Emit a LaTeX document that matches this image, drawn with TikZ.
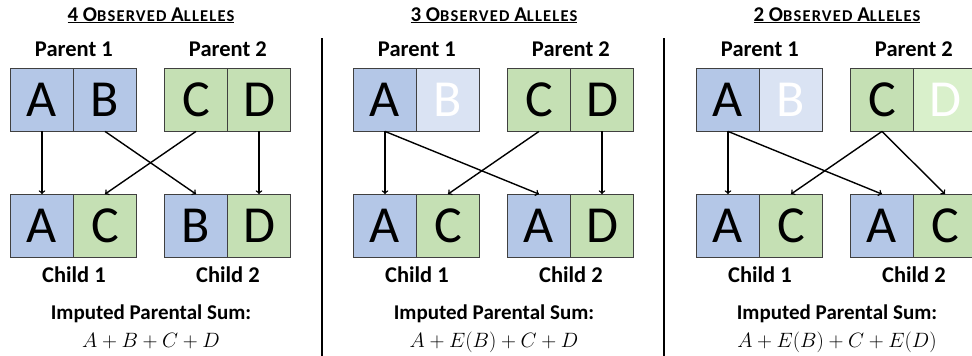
\documentclass[tikz,border=0pt]{standalone}
\usepackage{fontspec}
\setmainfont{Carlito}
\usetikzlibrary{arrows,positioning}

\definecolor{alleleblue}{HTML}{B4C7E7}
\definecolor{allelegreen}{HTML}{C5E0B4}
\definecolor{fadedblue}{HTML}{DAE3F3}
\definecolor{fadedgreen}{HTML}{D9F0CB}
\definecolor{cellline}{HTML}{404040}

\newcommand{\smallcapsof}[1]{{\fontsize{16.5}{17}\selectfont\addfontfeature{LetterSpace=7}#1}}
\newcommand{\obstitle}[1]{\underline{#1 O\smallcapsof{BSERVED} A\smallcapsof{LLELES}}}

\begin{document}
\begin{tikzpicture}[x=1pt,y=-1pt,>=to,node distance=63pt,
	allele/.style={draw=cellline,line width=0.8pt,minimum width=63pt,minimum height=63pt,inner sep=0pt,font=\fontsize{52}{52}\selectfont},
	pblue/.style={allele,fill=alleleblue},
	pgreen/.style={allele,fill=allelegreen},
	fblue/.style={allele,fill=fadedblue,text=white},
	fgreen/.style={allele,fill=fadedgreen,text=white},
	lbl/.style={anchor=base,font=\bfseries\fontsize{22.5}{24}\selectfont},
	sumlbl/.style={anchor=base,font=\bfseries\fontsize{21}{23}\selectfont},
	formula/.style={anchor=base,font=\fontsize{20.5}{22}\selectfont},
	ttl/.style={anchor=base,font=\bfseries\fontsize{21}{23}\selectfont},
	arr/.style={->,line width=1.4pt},
	divider/.style={line width=2.6pt}]
	\clip (0,0) rectangle (972,356);

	% 4 observed alleles
	\node[ttl]               at (151,21)                             {\obstitle{4}};
	\node[pblue]             (p1l-1) at (42,99.5)                    {A};
	\node[pblue]             (p1r-1) [right of = p1l-1]              {B};
	\node[pgreen]            (p2l-1) at (196,99.5)                   {C};
	\node[pgreen]            (p2r-1) [right of = p2l-1]              {D};
	\node[pblue]             (c1l-1) [node distance=126.5pt, below of = p1l-1] {A};
	\node[pgreen]            (c1r-1) [right of = c1l-1]              {C};
	\node[pblue]             (c2l-1) [node distance=126.5pt, below of = p2l-1] {B};
	\node[pgreen]            (c2r-1) [right of = c2l-1]              {D};
	\node[lbl] at ([yshift=11pt]p1l-1.north east)  {Parent 1};
	\node[lbl] at ([yshift=11pt]p2l-1.north east)  {Parent 2};
	\node[lbl] at ([yshift=-25pt]c1l-1.south east) {Child 1};
	\node[lbl] at ([yshift=-25pt]c2l-1.south east) {Child 2};
	\node[sumlbl]            at (151,319)                            {Imputed Parental Sum:};
	\node[formula]           at (151,347)                            {$A+B+C+D$};

	\draw[arr] (p1l-1.south) -- (c1l-1.north);
	\draw[arr] (p1r-1.south) -- (c2l-1.north);
	\draw[arr] (p2l-1.south) -- (c1r-1.north);
	\draw[arr] (p2r-1.south) -- (c2r-1.north);

	\draw[divider] (322,38) -- (322,356);

	% 3 observed alleles
	\begin{scope}[xshift=343pt]
	\node[ttl]               at (151,21)                             {\obstitle{3}};
	\node[pblue]             (p1l-2) at (42,99.5)                    {A};
	\node[fblue]             (p1r-2) [right of = p1l-2]              {B};
	\node[pgreen]            (p2l-2) at (196,99.5)                   {C};
	\node[pgreen]            (p2r-2) [right of = p2l-2]              {D};
	\node[pblue]             (c1l-2) [node distance=126.5pt, below of = p1l-2] {A};
	\node[pgreen]            (c1r-2) [right of = c1l-2]              {C};
	\node[pblue]             (c2l-2) [node distance=126.5pt, below of = p2l-2] {A};
	\node[pgreen]            (c2r-2) [right of = c2l-2]              {D};
	\node[lbl] at ([yshift=11pt]p1l-2.north east)  {Parent 1};
	\node[lbl] at ([yshift=11pt]p2l-2.north east)  {Parent 2};
	\node[lbl] at ([yshift=-25pt]c1l-2.south east) {Child 1};
	\node[lbl] at ([yshift=-25pt]c2l-2.south east) {Child 2};
	\node[sumlbl]            at (151,319)                            {Imputed Parental Sum:};
	\node[formula]           at (151,347)                            {$A+E(B)+C+D$};
	\end{scope}

	\draw[arr] (p1l-2.south) -- (c1l-2.north);
	\draw[arr] (p1l-2.south) -- (c2l-2.north);
	\draw[arr] (p2l-2.south) -- (c1r-2.north);
	\draw[arr] (p2r-2.south) -- (c2r-2.north);

	\draw[divider] (664,38) -- (664,356);

	% 2 observed alleles
	\begin{scope}[xshift=686pt]
	\node[ttl]               at (151,21)                             {\obstitle{2}};
	\node[pblue]             (p1l-3) at (42,99.5)                    {A};
	\node[fblue]             (p1r-3) [right of = p1l-3]              {B};
	\node[pgreen]            (p2l-3) at (196,99.5)                   {C};
	\node[fgreen]            (p2r-3) [right of = p2l-3]              {D};
	\node[pblue]             (c1l-3) [node distance=126.5pt, below of = p1l-3] {A};
	\node[pgreen]            (c1r-3) [right of = c1l-3]              {C};
	\node[pblue]             (c2l-3) [node distance=126.5pt, below of = p2l-3] {A};
	\node[pgreen]            (c2r-3) [right of = c2l-3]              {C};
	\node[lbl] at ([yshift=11pt]p1l-3.north east)  {Parent 1};
	\node[lbl] at ([yshift=11pt]p2l-3.north east)  {Parent 2};
	\node[lbl] at ([yshift=-25pt]c1l-3.south east) {Child 1};
	\node[lbl] at ([yshift=-25pt]c2l-3.south east) {Child 2};
	\node[sumlbl]            at (151,319)                            {Imputed Parental Sum:};
	\node[formula]           at (151,347)                            {$A+E(B)+C+E(D)$};
	\end{scope}

	\draw[arr] (p1l-3.south) -- (c1l-3.north);
	\draw[arr] (p1l-3.south) -- (c2l-3.north);
	\draw[arr] (p2l-3.south) -- (c1r-3.north);
	\draw[arr] (p2l-3.south) -- (c2r-3.north);
\end{tikzpicture}
\end{document}
